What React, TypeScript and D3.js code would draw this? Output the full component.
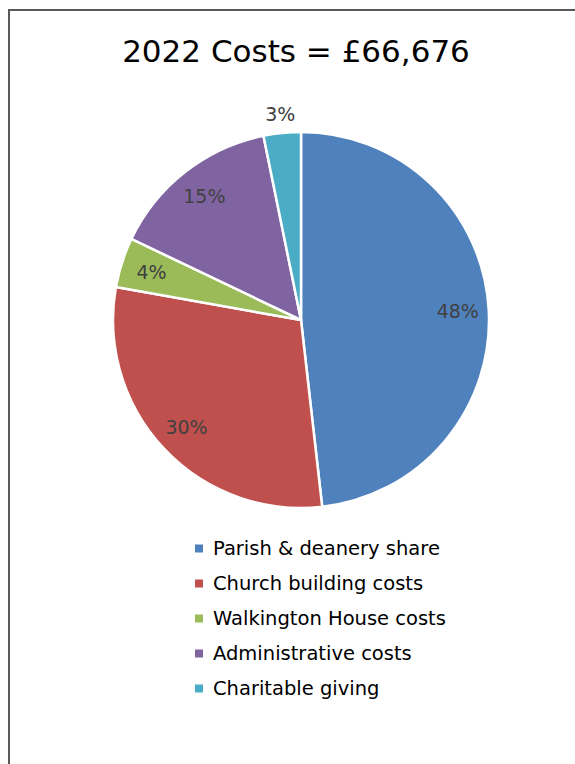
import React from "react";
import * as d3 from "d3";

const categories = [
  "Parish & deanery share",
  "Church building costs",
  "Walkington House costs",
  "Administrative costs",
  "Charitable giving",
];
const values = [48.2, 29.6, 4.3, 14.7, 3.2];
const colors = ["#4F81BD", "#C0504D", "#9BBB59", "#8064A2", "#4BACC6"];
const title = "2022 Costs = £66,676";

const W = 575;
const H = 764;
const cx = 301;
const cy = 320;
const R = 188;
const FONT = "'DejaVu Sans', sans-serif";

export default function App() {
  const data = categories.map((c, i) => ({ c, v: values[i], color: colors[i] }));
  const pie = d3.pie<any>().value((d) => d.v).sort(null);
  const arcs = pie(data);
  const arc = d3.arc<any>().innerRadius(0).outerRadius(R);
  const total = d3.sum(values);
  const labelPos = (a: any) => {
    const mid = (a.startAngle + a.endAngle) / 2;
    const small = a.data.v / total < 0.035;
    const r = small ? 207 : 157;
    return [Math.sin(mid) * r, -Math.cos(mid) * r];
  };
  const legendY = d3.scaleBand().domain(categories).range([531, 706]);
  return (
    <svg
      width={W}
      height={H}
      style={{ position: "absolute", left: 0, top: 0, background: "#fff" }}
    >
      <rect x={0} y={0} width={W} height={H} fill="#fff" />
      <path d={`M9,${H} V10 H${W}`} fill="none" stroke="#595959" strokeWidth={2} />
      <text
        x={296}
        y={51}
        textAnchor="middle"
        dominantBaseline="central"
        fontFamily={FONT}
        fontSize={31}
        fill="#000"
      >
        {title}
      </text>
      <g transform={`translate(${cx},${cy})`}>
        {arcs.map((a, i) => (
          <path key={i} d={arc(a) || ""} fill={a.data.color} stroke="#fff" strokeWidth={2.5} strokeLinejoin="round" />
        ))}
        {arcs.map((a, i) => {
          const [x, y] = labelPos(a);
          return (
            <text
              key={"l" + i}
              x={x}
              y={y}
              textAnchor="middle"
              dominantBaseline="central"
              fontFamily={FONT}
              fontSize={19}
              fill="#404040"
            >
              {Math.round((a.data.v / total) * 100) + "%"}
            </text>
          );
        })}
      </g>
      {categories.map((c, i) => {
        const y = (legendY(c) || 0) + legendY.bandwidth() / 2;
        return (
          <g key={"lg" + i}>
            <rect x={195} y={y - 4} width={8} height={8} fill={colors[i]} />
            <text
              x={213}
              y={y}
              dominantBaseline="central"
              fontFamily={FONT}
              fontSize={19.5}
              fill="#000"
            >
              {c}
            </text>
          </g>
        );
      })}
    </svg>
  );
}
